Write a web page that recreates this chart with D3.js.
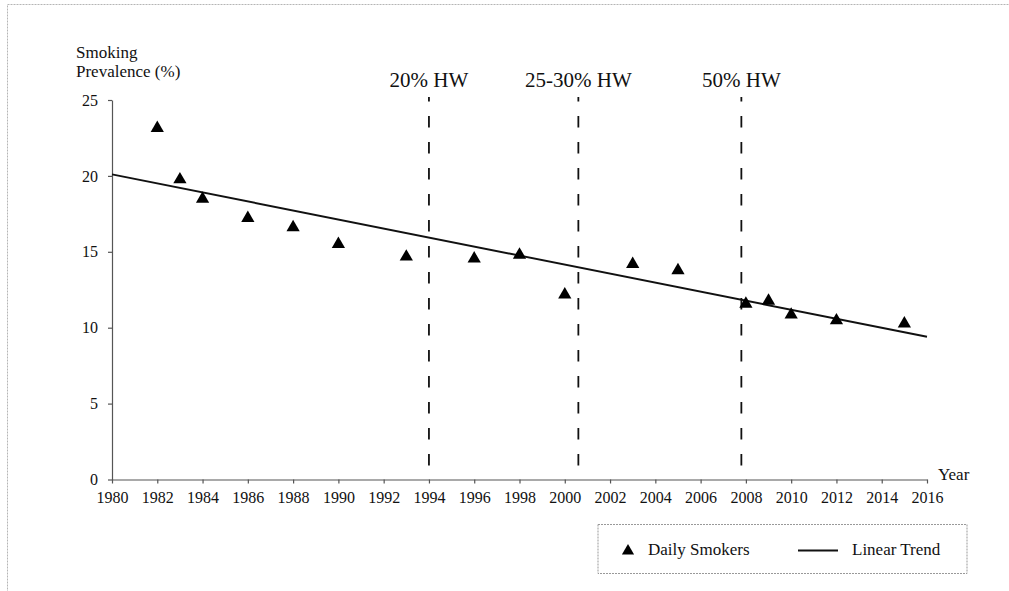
<!DOCTYPE html>
<html><head><meta charset="utf-8">
<script src="https://cdn.jsdelivr.net/npm/d3@7"></script>
<style>body{margin:0;background:#fff} svg{display:block}</style>
</head><body>
<svg id="chart" width="1009" height="591"></svg>
<script>
const years = [1982,1983,1984,1986,1988,1990,1993,1996,1998,2000,2003,2005,2008,2009,2010,2012,2015];
const dailySmokers = [23.25,19.86,18.59,17.31,16.7,15.6,14.77,14.64,14.9,12.27,14.28,13.87,11.67,11.87,10.95,10.57,10.36];
const trendYears = [1980, 2016];
const trendValues = [20.1, 9.4];
const xTicks = d3.range(1980, 2017, 2);
const yTicks = [0,5,10,15,20,25];
const policyYears = [1994, 2000.6, 2007.8];
const policyLabels = ["20% HW","25-30% HW","50% HW"];
const legendLabels = ["Daily Smokers","Linear Trend"];
const yTitle = ["Smoking","Prevalence (%)"];
const xTitle = "Year";

const FONT = "'Liberation Serif','Times New Roman',serif";
const svg = d3.select("#chart");
const x = d3.scaleLinear().domain([1980, 2016]).range([112, 927]);
const y = d3.scaleLinear().domain([0, 25]).range([479.5, 100]);

// outer frame (partially cut off)
svg.append("rect").attr("x",7.5).attr("y",4.5).attr("width",1100).attr("height",700)
  .attr("fill","none").attr("stroke","#b5b5b5").attr("stroke-dasharray","2,1");

// axes
const xAxis = svg.append("g").attr("transform",`translate(0,${y(0)})`)
  .call(d3.axisBottom(x).tickValues(xTicks).tickSize(4).tickSizeOuter(0).tickPadding(8).tickFormat(d3.format("d")));
const yAxis = svg.append("g").attr("transform",`translate(${x(1980)},0)`)
  .call(d3.axisLeft(y).tickValues(yTicks).tickSize(4).tickSizeOuter(0).tickPadding(10));
[xAxis,yAxis].forEach(g=>{
  g.selectAll("path,line").attr("stroke","#555").attr("stroke-width",1.2);
  g.selectAll("text").attr("font-family",FONT).attr("font-size",16).attr("fill","#111");
});

// axis titles
svg.append("text").attr("x",76).attr("font-family",FONT).attr("font-size",17).attr("fill","#111")
  .selectAll("tspan").data(yTitle).join("tspan").attr("x",76).attr("y",(d,i)=>58+i*19).text(d=>d);
svg.append("text").attr("x",x(2016)+11).attr("y",y(0)).attr("font-family",FONT).attr("font-size",17)
  .attr("fill","#111").text(xTitle);

// policy dashed lines
svg.selectAll(".policy").data(policyYears).join("line").attr("class","policy")
  .attr("x1",d=>x(d)).attr("x2",d=>x(d)).attr("y1",97).attr("y2",y(0))
  .attr("stroke","#111").attr("stroke-width",1.8).attr("stroke-dasharray","11.5,14.5").attr("stroke-dashoffset",7);
svg.selectAll(".plabel").data(policyLabels).join("text").attr("class","plabel")
  .attr("x",(d,i)=>x(policyYears[i])).attr("y",87).attr("text-anchor","middle")
  .attr("font-family",FONT).attr("font-size",21).attr("fill","#111").text(d=>d);

// trend line
const trendData = trendYears.map((t,i)=>[t,trendValues[i]]);
svg.append("path").datum(trendData)
  .attr("d", d3.line().x(d=>x(d[0])).y(d=>y(d[1])))
  .attr("fill","none").attr("stroke","#111").attr("stroke-width",2);

// points
const tri = d3.symbol(d3.symbolTriangle, 76);
svg.selectAll(".pt").data(years).join("path").attr("class","pt")
  .attr("d", tri).attr("transform",(d,i)=>`translate(${x(d)},${y(dailySmokers[i])+1.5})`)
  .attr("fill","#000");

// legend
const lg = svg.append("g");
lg.append("rect").attr("x",598).attr("y",524.5).attr("width",369).attr("height",49)
  .attr("fill","none").attr("stroke","#999").attr("stroke-dasharray","2,1");
lg.append("path").attr("d", d3.symbol(d3.symbolTriangle, 64)).attr("transform","translate(628,551)").attr("fill","#000");
lg.append("text").attr("x",648).attr("y",555).attr("font-family",FONT).attr("font-size",17).attr("fill","#111").text(legendLabels[0]);
lg.append("line").attr("x1",798).attr("x2",838).attr("y1",550.5).attr("y2",550.5).attr("stroke","#111").attr("stroke-width",2);
lg.append("text").attr("x",852).attr("y",555).attr("font-family",FONT).attr("font-size",17).attr("fill","#111").text(legendLabels[1]);
</script>
</body></html>
